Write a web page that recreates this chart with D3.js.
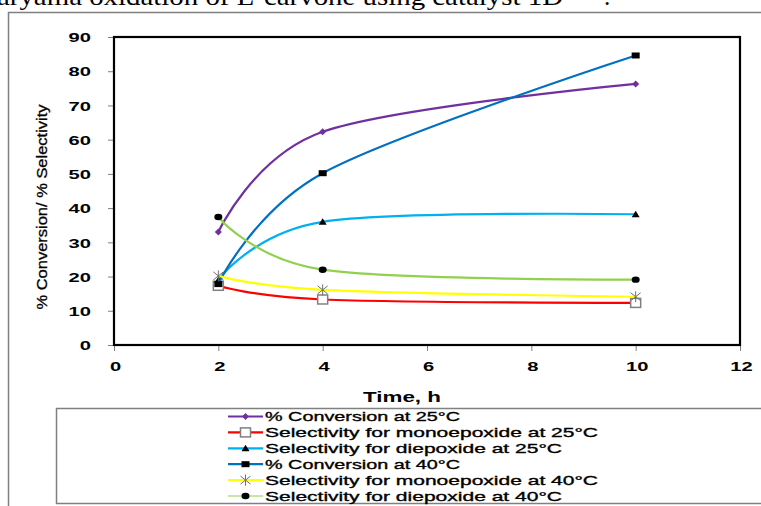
<!DOCTYPE html>
<html>
<head>
<meta charset="utf-8">
<script src="https://cdn.jsdelivr.net/npm/d3@7"></script>
<style>
  html, body { margin: 0; padding: 0; background: #fff; overflow: hidden; }
  svg { display: block; }
</style>
</head>
<body>
<svg id="chart"></svg>
<script>
// reaction time, h
const hours = [2, 4, 10];

// series values
const conv25 = [33, 62.3, 76.3];
const mono25 = [17.3, 13.3, 12.3];
const diep25 = [19, 36, 38.2];
const conv40 = [17.8, 50.2, 84.6];
const mono40 = [20.2, 16.1, 14.1];
const diep40 = [37.4, 22, 19.1];

const SERIES = [
	{ name: "% Conversion at 25°C", values: conv25, color: "#7030A0", marker: "diamond" },
	{ name: "Selectivity for monoepoxide at 25°C", values: mono25, color: "#FF0000", marker: "openSquare" },
	{ name: "Selectivity for diepoxide at 25°C", values: diep25, color: "#00B0F0", marker: "triangle" },
	{ name: "% Conversion at 40°C", values: conv40, color: "#0070C0", marker: "square" },
	{ name: "Selectivity for monoepoxide at 40°C", values: mono40, color: "#FFFF00", marker: "star" },
	{ name: "Selectivity for diepoxide at 40°C", values: diep40, color: "#92D050", marker: "circle" },
];

const xTicks = [0, 2, 4, 6, 8, 10, 12];
const yTicks = [0, 10, 20, 30, 40, 50, 60, 70, 80, 90];

const width = 761, height = 506;
const FONT = "'Liberation Sans', Arial, sans-serif";
const STRETCH = 1.55; // the source picture is stretched sideways

const svg = d3.select("#chart")
	.attr("width", width)
	.attr("height", height)
	.attr("viewBox", [0, 0, width, height]);

// caption text cut off by the top of the picture
svg.append("text")
	.attr("x", -3)
	.attr("y", 5)
	.attr("font-family", "'Liberation Serif', 'Times New Roman', serif")
	.attr("font-size", 25)
	.attr("textLength", 566)
	.attr("lengthAdjust", "spacingAndGlyphs")
	.text("aryama oxidation of L-carvone using catalyst 1D");
svg.append("text")
	.attr("x", 604)
	.attr("y", 5)
	.attr("font-family", "'Liberation Serif', 'Times New Roman', serif")
	.attr("font-size", 25)
	.text(".");

// chart area border
svg.append("rect")
	.attr("x", 8.5).attr("y", 12.5)
	.attr("width", 900).attr("height", 600)
	.attr("fill", "none")
	.attr("stroke", "#808080")
	.attr("stroke-width", 1.5);

const x = d3.scaleLinear([0, 12], [114, 740]);
const y = d3.scaleLinear([0, 90], [345, 37]);

//Y axis
const yAxis = svg.append("g")
	.attr("transform", `translate(${x(0)},0)`)
	.call(d3.axisLeft(y).tickValues(yTicks).tickSize(6).tickFormat(d3.format("d")));
yAxis.select(".domain").remove();
yAxis.selectAll("line").attr("stroke", "#808080");
yAxis.selectAll("text")
	.attr("x", 0)
	.attr("dy", "0.36em")
	.attr("text-anchor", "end")
	.attr("transform", `translate(-23,0) scale(${STRETCH},1)`)
	.attr("font-family", FONT)
	.attr("font-size", 13)
	.attr("font-weight", "bold")
	.attr("fill", "#000");

//X axis
const xAxis = svg.append("g")
	.attr("transform", `translate(0,${y(0)})`)
	.call(d3.axisBottom(x).tickValues(xTicks).tickSize(6));
xAxis.select(".domain").remove();
xAxis.selectAll("line").attr("stroke", "#808080");
xAxis.selectAll("text")
	.attr("y", 0)
	.attr("dy", "0.36em")
	.attr("text-anchor", "middle")
	.attr("transform", `translate(1,21) scale(${STRETCH},1)`)
	.attr("font-family", FONT)
	.attr("font-size", 13)
	.attr("font-weight", "bold")
	.attr("fill", "#000");

// plot frame
svg.append("rect")
	.attr("x", x(0)).attr("y", y(90))
	.attr("width", x(12) - x(0)).attr("height", y(0) - y(90))
	.attr("fill", "none")
	.attr("stroke", "#000")
	.attr("stroke-width", 2.2);

// axis titles
svg.append("text")
	.attr("transform", `translate(402,397) scale(1.6,1)`)
	.attr("text-anchor", "middle")
	.attr("dy", "0.36em")
	.attr("font-family", FONT)
	.attr("font-size", 14)
	.attr("font-weight", "bold")
	.text("Time, h");

svg.append("text")
	.attr("transform", "translate(41,207) rotate(-90)")
	.attr("text-anchor", "middle")
	.attr("dy", "0.36em")
	.attr("font-family", FONT)
	.attr("font-size", 15.5)
	.attr("stroke", "#000")
	.attr("stroke-width", 0.3)
	.attr("textLength", 205)
	.attr("lengthAdjust", "spacingAndGlyphs")
	.text("% Conversion/ % Selectivity");

// markers
function drawMarker(g, kind, color) {
	if (kind === "diamond") {
		g.append("path").attr("d", "M0,-3.5L3.5,0L0,3.5L-3.5,0Z").attr("fill", color);
	} else if (kind === "openSquare") {
		g.append("rect").attr("x", -5).attr("y", -4.5).attr("width", 10).attr("height", 9)
			.attr("fill", "#fff").attr("stroke", "#808080").attr("stroke-width", 1.5);
	} else if (kind === "triangle") {
		g.append("path").attr("d", "M0,-3.5L4,3L-4,3Z").attr("fill", "#000");
	} else if (kind === "square") {
		g.append("rect").attr("x", -4).attr("y", -3).attr("width", 8).attr("height", 6).attr("fill", "#000");
	} else if (kind === "star") {
		g.append("path")
			.attr("d", "M-5,-4L5,4M5,-4L-5,4M0,-5.5V5.5")
			.attr("stroke", "#707070").attr("stroke-width", 1).attr("fill", "none");
	} else if (kind === "circle") {
		g.append("ellipse").attr("rx", 4).attr("ry", 3.2).attr("fill", "#000");
	}
}

const line = d3.line()
	.x((d, i) => x(hours[i]))
	.y((d) => y(d))
	.curve(d3.curveCardinal.tension(0));

const plot = svg.append("g");
SERIES.forEach((s) => {
	const g = plot.append("g");
	g.append("path")
		.attr("d", line(s.values))
		.attr("fill", "none")
		.attr("stroke", s.color)
		.attr("stroke-width", 2.2);
	s.values.forEach((v, i) => {
		drawMarker(g.append("g").attr("transform", `translate(${x(hours[i])},${y(v)})`), s.marker, s.color);
	});
});

// legend
svg.append("rect")
	.attr("x", 56.5).attr("y", 408.5)
	.attr("width", 900).attr("height", 95)
	.attr("fill", "#fff")
	.attr("stroke", "#808080")
	.attr("stroke-width", 1.5);

const legendWidths = [195, 333, 297, 195, 333, 297];
const legend = svg.append("g")
	.selectAll("g")
	.data(SERIES)
	.join("g")
	.attr("transform", (d, i) => `translate(228,${416.5 + i * 15.9})`);
legend.append("line")
	.attr("x1", 0).attr("x2", 35)
	.attr("stroke", (d) => d.color)
	.attr("stroke-width", (d, i) => (i === 5 ? 1.2 : 2.2));
legend.each(function (d) {
	drawMarker(d3.select(this).append("g").attr("transform", "translate(17.5,0)"), d.marker, d.color);
});
legend.append("text")
	.attr("x", 37)
	.attr("dy", "0.36em")
	.attr("font-family", FONT)
	.attr("font-size", 13.5)
	.attr("stroke", "#000")
	.attr("stroke-width", 0.35)
	.attr("textLength", (d, i) => legendWidths[i])
	.attr("lengthAdjust", "spacingAndGlyphs")
	.text((d) => d.name);
</script>
</body>
</html>
